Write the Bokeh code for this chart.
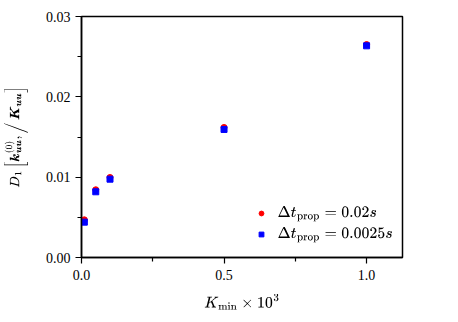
from bokeh.plotting import figure
from bokeh.models import Range1d, FixedTicker, Legend, LegendItem, PrintfTickFormatter, Label
from bokeh.embed import file_html
from bokeh.resources import INLINE

# data
k_min = [0.01, 0.05, 0.1, 0.5, 1.0]
d1_dt002 = [0.00469, 0.00843, 0.00996, 0.01619, 0.02651]
d1_dt00025 = [0.00440, 0.00818, 0.00975, 0.01594, 0.02635]
label_dt002 = r"$$\Delta t_{\mathrm{prop}} = 0.02s$$"
label_dt00025 = r"$$\Delta t_{\mathrm{prop}} = 0.0025s$$"
x_major = [0.0, 0.5, 1.0]
x_minor = [0.25, 0.75]
y_major = [0.0, 0.01, 0.02, 0.03]
y_minor = [0.005, 0.015, 0.025]

FONT = "Liberation Serif"

p = figure(width=450, height=314, frame_width=321, frame_height=241,
           output_backend="svg", toolbar_location=None,
           x_range=Range1d(0, 1.126), y_range=Range1d(0, 0.03),
           min_border_left=70, min_border_top=16, min_border_right=47, min_border_bottom=57)

p.xgrid.visible = False
p.ygrid.visible = False
p.outline_line_color = "black"
p.outline_line_width = 1.5
p.outline_line_alpha = 1.0
p.background_fill_color = "white"
p.border_fill_color = "white"

r1 = p.scatter(k_min, d1_dt002, marker="circle", size=6, color="#ff0000")
r2 = p.scatter(k_min, d1_dt00025, marker="square", size=6, color="#0000ff")

p.xaxis.ticker = FixedTicker(ticks=x_major, minor_ticks=x_minor)
p.yaxis.ticker = FixedTicker(ticks=y_major, minor_ticks=y_minor)
p.xaxis.formatter = PrintfTickFormatter(format="%.1f")
p.yaxis.formatter = PrintfTickFormatter(format="%.2f")

for ax in (p.xaxis, p.yaxis):
    ax.axis_line_color = "black"
    ax.axis_line_width = 1.5
    ax.major_tick_line_color = "black"
    ax.minor_tick_line_color = "black"
    ax.major_tick_line_width = 1.2
    ax.minor_tick_line_width = 1.2
    ax.major_tick_out = 6
    ax.major_tick_in = 0
    ax.minor_tick_out = 4
    ax.minor_tick_in = 0
    ax.major_label_text_font = FONT
    ax.major_label_text_font_size = "14px"
    ax.major_label_text_font_style = "normal"
    ax.major_label_text_color = "black"
    ax.axis_label_text_font = FONT
    ax.axis_label_text_font_style = "normal"
    ax.axis_label_text_color = "black"

p.xaxis.axis_label_text_font_size = "14px"
p.yaxis.axis_label_text_font_size = "12px"
p.xaxis.axis_label = r"$$K_{\mathrm{min}} \times 10^3$$"
p.yaxis.axis_label = r"$$D_1\left[\boldsymbol{k}_{\boldsymbol{uu}}^{(0)},\Big/\,\boldsymbol{K}_{\boldsymbol{uu}}\right]$$"
p.xaxis.major_label_standoff = 6
p.yaxis.major_label_standoff = 5
p.xaxis.axis_label_standoff = 11
p.yaxis.axis_label_standoff = 15

# legend: markers from a Legend, texts as math labels next to them
legend = Legend(items=[LegendItem(label=" ", renderers=[r1]),
                       LegendItem(label=" ", renderers=[r2])],
                location=(174, 13))
legend.label_text_font_size = "1px"
legend.label_text_alpha = 0
legend.border_line_alpha = 0
legend.background_fill_alpha = 0
legend.glyph_width = 12
legend.glyph_height = 20
legend.label_height = 20
legend.label_width = 1
legend.label_standoff = 0
legend.spacing = 1
legend.margin = 0
legend.padding = 0
p.add_layout(legend, "center")

for txt, yy in ((label_dt002, 44), (label_dt00025, 23)):
    p.add_layout(Label(x=196, y=yy, x_units="screen", y_units="screen", text=txt,
                       text_font=FONT, text_font_size="14px", text_baseline="middle",
                       text_color="black"))

open("out.html", "w").write(file_html(p, INLINE))
